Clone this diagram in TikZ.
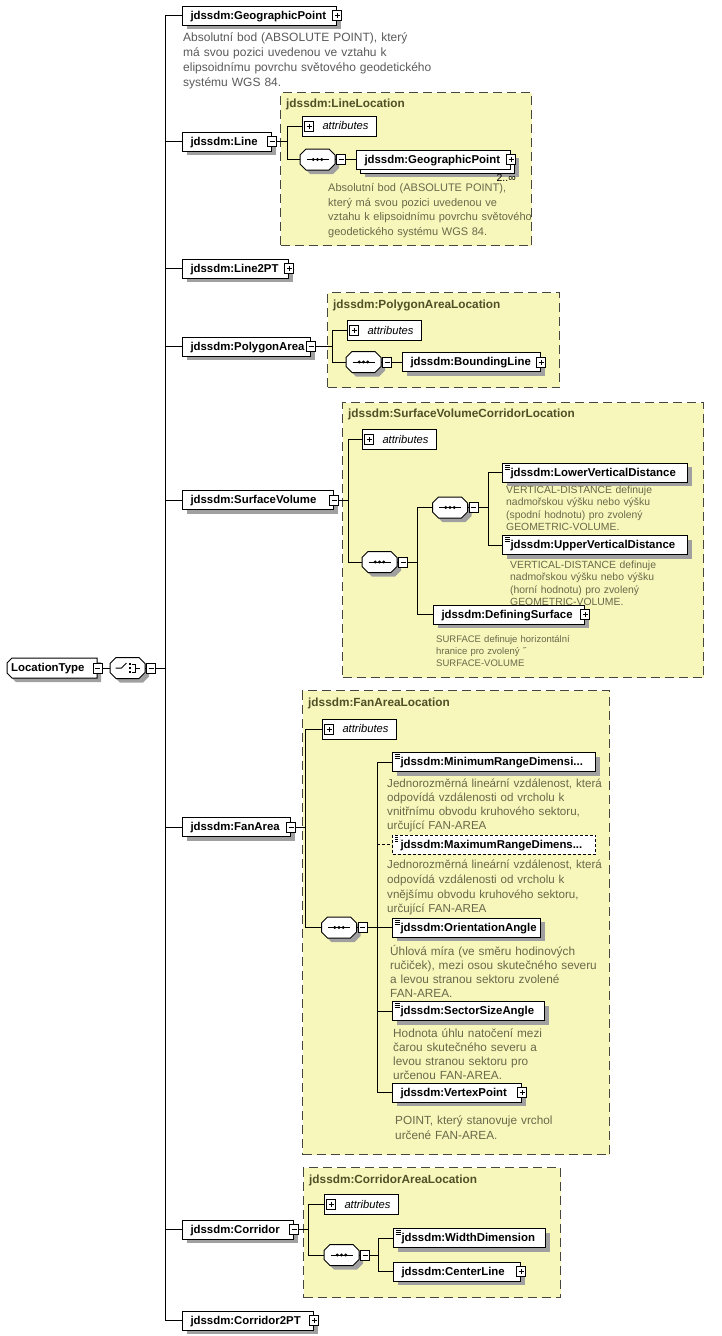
\documentclass[tikz,border=0pt]{standalone}
\usepackage{fontspec}
\setmainfont{Liberation Sans}
\usetikzlibrary{shadows}
\definecolor{shadowgray}{RGB}{160,160,160}
\definecolor{yfill}{RGB}{247,247,187}
\definecolor{ydash}{RGB}{70,70,60}
\definecolor{ytitle}{RGB}{80,80,40}
\definecolor{descw}{RGB}{90,90,90}
\definecolor{descy}{RGB}{105,105,75}
\newcommand\lblfont{\fontsize{11.4}{13}\selectfont\bfseries}
\newcommand\firstln{\rule{0pt}{1em}}
\newcommand\drawoct[1]{%
 \begin{scope}[shift={(#1.center)}]
  \fill[shadowgray] (-7.5,-6.5) -- (15.5,-6.5) -- (21.5,-0.5) -- (21.5,8.5) -- (15.5,14.5) -- (-7.5,14.5) -- (-13.5,8.5) -- (-13.5,-0.5) -- cycle;
  \filldraw[fill=white,draw=black,line width=1pt] (-11.5,-10.5) -- (11.5,-10.5) -- (17.5,-4.5) -- (17.5,4.5) -- (11.5,10.5) -- (-11.5,10.5) -- (-17.5,4.5) -- (-17.5,-4.5) -- cycle;
 \end{scope}}
\newcommand\seqcomp[1]{\drawoct{#1}%
 \begin{scope}[shift={(#1.center)}]
  \draw[line width=1pt] (-11,0) -- (11,0);
  \fill (-4.2,0) circle (1.6);
  \fill (0,0) circle (1.6);
  \fill (4.2,0) circle (1.6);
 \end{scope}}
\newcommand\choicecomp[1]{\drawoct{#1}%
 \begin{scope}[shift={(#1.center)}]
  \draw[line width=1pt] (-12,0) -- (-6,0) -- (-1,-5);
  \fill (1,-5) rectangle (3,-3);
  \fill (1,-1) rectangle (3,1);
  \fill (1,3) rectangle (3,5);
  \draw[line width=1pt] (4,-4) -- (8,-4) -- (8,4) -- (4,4);
  \draw[line width=1pt] (8,0) -- (12,0);
 \end{scope}}
\tikzset{
 conn/.style={line width=1pt, draw=black},
 elembase/.style={rectangle, draw=black, line width=1pt, fill=white, inner xsep=8pt, inner ysep=0pt, minimum height=19pt, text height=9.5pt, text depth=2.5pt, align=left, anchor=west, font=\lblfont, text width=#1pt-16pt},
 elem/.style={elembase=#1, drop shadow={shadow xshift=4pt, shadow yshift=-4pt, opacity=1, fill=shadowgray}},
 iconed/.style={path picture={
   \draw[line width=0.6pt] ([xshift=2pt,yshift=-2pt]path picture bounding box.north west) -- ([xshift=7pt,yshift=-2pt]path picture bounding box.north west);
   \draw[line width=0.6pt] ([xshift=2pt,yshift=-4pt]path picture bounding box.north west) -- ([xshift=7pt,yshift=-4pt]path picture bounding box.north west);
   \draw[line width=0.6pt] ([xshift=2pt,yshift=-6pt]path picture bounding box.north west) -- ([xshift=7pt,yshift=-6pt]path picture bounding box.north west);}},
 pmbox/.style={rectangle, draw=black, line width=0.8pt, fill=white, minimum width=9pt, minimum height=10pt, inner sep=0pt},
 pmminus/.style={pmbox, path picture={\draw[line width=0.8pt] ([xshift=-2.5pt]path picture bounding box.center) -- ([xshift=2.5pt]path picture bounding box.center);}},
 pmplus/.style={pmbox, path picture={\draw[line width=0.8pt] ([xshift=-2.5pt]path picture bounding box.center) -- ([xshift=2.5pt]path picture bounding box.center); \draw[line width=0.8pt] ([yshift=-2.5pt]path picture bounding box.center) -- ([yshift=2.5pt]path picture bounding box.center);}},
 attr/.style={rectangle, draw=black, line width=1pt, fill=white, anchor=west, inner xsep=4pt, inner ysep=0pt, text width=66pt, minimum height=20pt, text height=9.5pt, text depth=2.5pt, align=left, font=\fontsize{11.2}{13}\selectfont\itshape},
 comp/.style={rectangle, minimum width=35pt, minimum height=21pt, inner sep=0pt},
 ybox/.style={rectangle, draw=ydash, line width=1pt, dash pattern=on 9pt off 5pt, fill=yfill, inner sep=0pt, anchor=north west},
 ytitlestyle/.style={anchor=west, inner sep=0pt, text=ytitle, font=\fontsize{11.8}{13}\selectfont\bfseries, text height=9.5pt, text depth=2.5pt},
 desc/.style={anchor=north west, inner sep=0pt, align=left, text width=320pt},
}
\begin{document}
\begin{tikzpicture}[x=1pt,y=-1pt]
\fill[white] (0,0) rectangle (722,1336);
\path[use as bounding box] (0,0) rectangle (722,1336);

% yellow group boxes
\node[ybox, minimum width=251pt, minimum height=153pt] (lineloc) at (280,92) {};
\node[ytitlestyle] (lineloc-t) at (286,104) {jdssdm:LineLocation};
\node[ybox, minimum width=232pt, minimum height=95pt] (polyloc) at (327,292) {};
\node[ytitlestyle] (polyloc-t) at (333,305) {jdssdm:PolygonAreaLocation};
\node[ybox, minimum width=361pt, minimum height=275pt] (survloc) at (342,402) {};
\node[ytitlestyle] (survloc-t) at (348,414) {jdssdm:SurfaceVolumeCorridorLocation};
\node[ybox, minimum width=307pt, minimum height=464pt] (fanloc) at (302,690) {};
\node[ytitlestyle] (fanloc-t) at (308,703) {jdssdm:FanAreaLocation};
\node[ybox, minimum width=257pt, minimum height=130pt] (corrloc) at (303,1167) {};
\node[ytitlestyle] (corrloc-t) at (309,1180) {jdssdm:CorridorAreaLocation};

% root
\fill[shadowgray] (16,662) -- (101,662) -- (101,682) -- (16,682) -- (11,677) -- (11,667) -- cycle;
\filldraw[fill=white,draw=black,line width=1pt] (12,658) -- (97,658) -- (97,678) -- (12,678) -- (7,673) -- (7,663) -- cycle;
\node[anchor=west, inner xsep=4pt, inner ysep=0pt, text width=82pt, align=left, font=\lblfont, text height=9.5pt, text depth=2.5pt] (root) at (7,668) {LocationType};
\node[pmminus] (root-pm) at (root.east) {};
\node[comp] (choice) at (127.5,668) {};
\choicecomp{choice}
\node[pmminus] (choice-pm) at ([xshift=6pt]choice.east) {};

% top level children
\node[elem=154] (gp) at (182,15.5) {jdssdm:GeographicPoint};
\node[pmplus] (gp-pm) at (gp.east) {};
\node[elem=89] (line) at (182,141.5) {jdssdm:Line};
\node[pmminus] (line-pm) at (line.east) {};
\node[elem=106] (l2pt) at (182,268.5) {jdssdm:Line2PT};
\node[pmplus] (l2pt-pm) at (l2pt.east) {};
\node[elem=128] (parea) at (182,346.5) {jdssdm:PolygonArea};
\node[pmminus] (parea-pm) at (parea.east) {};
\node[elem=151] (svol) at (182,500) {jdssdm:SurfaceVolume};
\node[pmminus] (svol-pm) at (svol.east) {};
\node[elem=108] (farea) at (182,827) {jdssdm:FanArea};
\node[pmminus] (farea-pm) at (farea.east) {};
\node[elem=111] (corr) at (182,1229.5) {jdssdm:Corridor};
\node[pmminus] (corr-pm) at (corr.east) {};
\node[elem=131] (c2pt) at (182,1320.5) {jdssdm:Corridor2PT};
\node[pmplus] (c2pt-pm) at (c2pt.east) {};

% Line group
\node[attr] (la) at (302,126) {\hspace*{16pt}\mbox{attributes}};
\node[pmplus] (la-pm) at ([xshift=7pt]la.west) {};
\node[comp] (lseq) at (317.5,159.5) {};
\seqcomp{lseq}
\node[pmminus] (lseq-pm) at ([xshift=6pt]lseq.east) {};
\node[elem=154] (lgpb) at (360,163.5) {};
\node[elembase=154] (lgp) at (356,159.5) {jdssdm:GeographicPoint};
\node[pmplus] (lgp-pm) at (lgp.east) {};
\node[anchor=east, inner sep=0pt, font=\fontsize{10.5}{12}\selectfont] (lgp-occ) at (516,178) {2..∞};

% Polygon group
\node[attr] (pa) at (347,330.5) {\hspace*{16pt}\mbox{attributes}};
\node[pmplus] (pa-pm) at ([xshift=7pt]pa.west) {};
\node[comp] (pseq) at (363.5,362) {};
\seqcomp{pseq}
\node[pmminus] (pseq-pm) at ([xshift=6pt]pseq.east) {};
\node[elem=138] (bline) at (402,362) {jdssdm:BoundingLine};
\node[pmplus] (bline-pm) at (bline.east) {};

% Surface group
\node[attr] (sa) at (362,439.5) {\hspace*{16pt}\mbox{attributes}};
\node[pmplus] (sa-pm) at ([xshift=7pt]sa.west) {};
\node[comp] (sseq1) at (379.5,562) {};
\seqcomp{sseq1}
\node[pmminus] (sseq1-pm) at ([xshift=6pt]sseq1.east) {};
\node[comp] (sseq2) at (450,507.5) {};
\seqcomp{sseq2}
\node[pmminus] (sseq2-pm) at ([xshift=6pt]sseq2.east) {};
\node[elem=185, iconed] (lvd) at (502,472.5) {jdssdm:LowerVerticalDistance};
\node[elem=185, iconed] (uvd) at (502,545) {jdssdm:UpperVerticalDistance};
\node[elem=151] (dsurf) at (433,614.5) {jdssdm:DefiningSurface};
\node[pmplus] (dsurf-pm) at (dsurf.east) {};

% Fan group
\node[attr] (fa) at (322,729) {\hspace*{16pt}\mbox{attributes}};
\node[pmplus] (fa-pm) at ([xshift=7pt]fa.west) {};
\node[comp] (fseq) at (339,927.5) {};
\seqcomp{fseq}
\node[pmminus] (fseq-pm) at ([xshift=6pt]fseq.east) {};
\node[elem=203, iconed] (minr) at (392,762) {jdssdm:MinimumRangeDimensi...};
\node[elembase=203, iconed, dash pattern=on 3pt off 2pt] (maxr) at (392,844.5) {jdssdm:MaximumRangeDimens...};
\node[elem=148, iconed] (orient) at (392,927.5) {jdssdm:OrientationAngle};
\node[elem=152, iconed] (sector) at (392,1011) {jdssdm:SectorSizeAngle};
\node[elem=129] (vertex) at (392,1092.5) {jdssdm:VertexPoint};
\node[pmplus] (vertex-pm) at (vertex.east) {};

% Corridor group
\node[attr] (ca) at (324,1204.5) {\hspace*{16pt}\mbox{attributes}};
\node[pmplus] (ca-pm) at ([xshift=7pt]ca.west) {};
\node[comp] (cseq) at (341.5,1255) {};
\seqcomp{cseq}
\node[pmminus] (cseq-pm) at ([xshift=6pt]cseq.east) {};
\node[elem=152, iconed] (wdim) at (393,1238) {jdssdm:WidthDimension};
\node[elem=127] (cline) at (393,1271.5) {jdssdm:CenterLine};
\node[pmplus] (cline-pm) at (cline.east) {};

% descriptions
\node[desc, text=descw, font=\fontsize{12}{15}\selectfont] (d-gp) at (183,29) {\firstln Absolutní bod (ABSOLUTE POINT), který\\má svou pozici uvedenou ve vztahu k\\elipsoidnímu povrchu světového geodetického\\systému WGS 84.};
\node[desc, text=descy, font=\fontsize{11}{14.8}\selectfont] (d-lgp) at (328,180) {\firstln Absolutní bod (ABSOLUTE POINT),\\který má svou pozici uvedenou ve\\vztahu k elipsoidnímu povrchu světového\\geodetického systému WGS 84.};
\node[desc, text=descy, font=\fontsize{10.4}{12.3}\selectfont] (d-lvd) at (506,483) {\firstln VERTICAL-DISTANCE definuje\\nadmořskou výšku nebo výšku\\(spodní hodnotu) pro zvolený\\GEOMETRIC-VOLUME.};
\node[desc, text=descy, font=\fontsize{10.4}{12.2}\selectfont] (d-uvd) at (510,558) {\firstln VERTICAL-DISTANCE definuje\\nadmořskou výšku nebo výšku\\(horní hodnotu) pro zvolený\\GEOMETRIC-VOLUME.};
\node[desc, text=descy, font=\fontsize{9.5}{12}\selectfont] (d-ds) at (436,632.5) {\firstln SURFACE definuje horizontální\\hranice pro zvolený ˝\\SURFACE-VOLUME};
\node[desc, text=descy, font=\fontsize{11.6}{13.8}\selectfont] (d-minr) at (387,776) {\firstln Jednorozměrná lineární vzdálenost, která\\odpovídá vzdálenosti od vrcholu k\\vnitřnímu obvodu kruhového sektoru,\\určující FAN-AREA};
\node[desc, text=descy, font=\fontsize{11.6}{14.6}\selectfont] (d-maxr) at (387,857) {\firstln Jednorozměrná lineární vzdálenost, která\\odpovídá vzdálenosti od vrcholu k\\vnějšímu obvodu kruhového sektoru,\\určující FAN-AREA};
\node[desc, text=descy, font=\fontsize{11.8}{14.2}\selectfont] (d-orient) at (390,943) {\firstln Úhlová míra (ve směru hodinových\\ručiček), mezi osou skutečného severu\\a levou stranou sektoru zvolené\\FAN-AREA.};
\node[desc, text=descy, font=\fontsize{11.8}{14.3}\selectfont] (d-sector) at (393,1025) {\firstln Hodnota úhlu natočení mezi\\čarou skutečného severu a\\levou stranou sektoru pro\\určenou FAN-AREA.};
\node[desc, text=descy, font=\fontsize{11.8}{15}\selectfont] (d-vertex) at (395,1112) {\firstln POINT, který stanovuje vrchol\\určené FAN-AREA.};

% connectors: root level
\coordinate (bus) at (165,668);
\draw[conn] (root-pm.east) -- (choice.west);
\draw[conn] (choice.east) -- (choice-pm.west);
\draw[conn] (choice-pm.east) -- (bus);
\draw[conn] (bus |- gp.west) -- (bus |- c2pt.west);
\foreach \n in {gp,line,l2pt,parea,svol,farea,corr,c2pt} \draw[conn] (bus |- \n.west) -- (\n.west);

% Line
\coordinate (lbr) at (287,141.5);
\draw[conn] (line-pm.east) -- (lbr);
\draw[conn] (lbr |- la.west) -- (lbr |- lseq.west);
\draw[conn] (lbr |- la.west) -- (la.west);
\draw[conn] (lbr |- lseq.west) -- (lseq.west);
\draw[conn] (lseq.east) -- (lseq-pm.west);
\draw[conn] (lseq-pm.east) -- (lgp.west);

% Polygon
\coordinate (pbr) at (332,346.5);
\draw[conn] (parea-pm.east) -- (pbr);
\draw[conn] (pbr |- pa.west) -- (pbr |- pseq.west);
\draw[conn] (pbr |- pa.west) -- (pa.west);
\draw[conn] (pbr |- pseq.west) -- (pseq.west);
\draw[conn] (pseq.east) -- (pseq-pm.west);
\draw[conn] (pseq-pm.east) -- (bline.west);

% Surface
\coordinate (sbr1) at (348,500);
\draw[conn] (svol-pm.east) -- (sbr1);
\draw[conn] (sbr1 |- sa.west) -- (sbr1 |- sseq1.west);
\draw[conn] (sbr1 |- sa.west) -- (sa.west);
\draw[conn] (sbr1 |- sseq1.west) -- (sseq1.west);
\draw[conn] (sseq1.east) -- (sseq1-pm.west);
\coordinate (sbr2) at (417,562);
\draw[conn] (sseq1-pm.east) -- (sbr2);
\draw[conn] (sbr2 |- sseq2.west) -- (sbr2 |- dsurf.west);
\draw[conn] (sbr2 |- sseq2.west) -- (sseq2.west);
\draw[conn] (sbr2 |- dsurf.west) -- (dsurf.west);
\draw[conn] (sseq2.east) -- (sseq2-pm.west);
\coordinate (sbr3) at (488,507.5);
\draw[conn] (sseq2-pm.east) -- (sbr3);
\draw[conn] (sbr3 |- lvd.west) -- (sbr3 |- uvd.west);
\draw[conn] (sbr3 |- lvd.west) -- (lvd.west);
\draw[conn] (sbr3 |- uvd.west) -- (uvd.west);

% Fan
\coordinate (fbr1) at (305,827);
\draw[conn] (farea-pm.east) -- (fbr1);
\draw[conn] (fbr1 |- fa.west) -- (fbr1 |- fseq.west);
\draw[conn] (fbr1 |- fa.west) -- (fa.west);
\draw[conn] (fbr1 |- fseq.west) -- (fseq.west);
\draw[conn] (fseq.east) -- (fseq-pm.west);
\coordinate (fbr2) at (377,927.5);
\draw[conn] (fseq-pm.east) -- (fbr2);
\draw[conn] (fbr2 |- minr.west) -- (fbr2 |- vertex.west);
\draw[conn] (fbr2 |- minr.west) -- (minr.west);
\draw[conn, dash pattern=on 3pt off 2pt] (fbr2 |- maxr.west) -- (maxr.west);
\draw[conn] (fbr2 |- orient.west) -- (orient.west);
\draw[conn] (fbr2 |- sector.west) -- (sector.west);
\draw[conn] (fbr2 |- vertex.west) -- (vertex.west);

% Corridor
\coordinate (cbr1) at (308,1229.5);
\draw[conn] (corr-pm.east) -- (cbr1);
\draw[conn] (cbr1 |- ca.west) -- (cbr1 |- cseq.west);
\draw[conn] (cbr1 |- ca.west) -- (ca.west);
\draw[conn] (cbr1 |- cseq.west) -- (cseq.west);
\draw[conn] (cseq.east) -- (cseq-pm.west);
\coordinate (cbr2) at (378,1255);
\draw[conn] (cseq-pm.east) -- (cbr2);
\draw[conn] (cbr2 |- wdim.west) -- (cbr2 |- cline.west);
\draw[conn] (cbr2 |- wdim.west) -- (wdim.west);
\draw[conn] (cbr2 |- cline.west) -- (cline.west);
\end{tikzpicture}
\end{document}
